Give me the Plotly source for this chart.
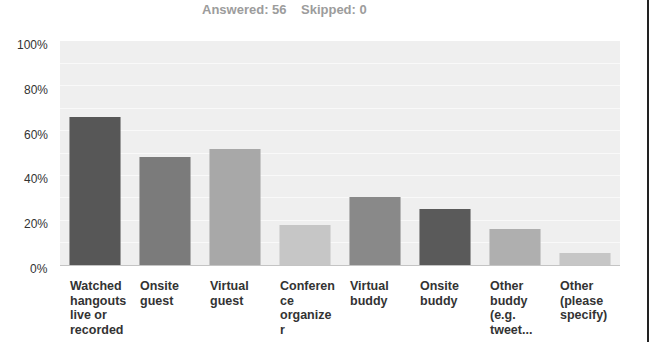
import plotly.graph_objects as go

categories = ["Watched hangouts live or recorded", "Onsite guest", "Virtual guest",
              "Conference organizer", "Virtual buddy", "Onsite buddy",
              "Other buddy (e.g. tweet...", "Other (please specify)"]
label_lines = [["Watched", "hangouts", "live or", "recorded"],
               ["Onsite", "guest"],
               ["Virtual", "guest"],
               ["Conferen", "ce", "organize", "r"],
               ["Virtual", "buddy"],
               ["Onsite", "buddy"],
               ["Other", "buddy", "(e.g.", "tweet..."],
               ["Other", "(please", "specify)"]]
values = [66.07, 48.21, 51.79, 17.86, 30.36, 25.00, 16.07, 5.36]
bar_colors = ["#575757", "#7b7b7b", "#a8a8a8", "#c6c6c6",
              "#898989", "#5a5a5a", "#afafaf", "#c6c6c6"]
y_ticks = [0, 20, 40, 60, 80, 100]
y_tick_labels = ["0%", "20%", "40%", "60%", "80%", "100%"]

x_idx = list(range(len(categories)))
bar_width = 0.73

fig = go.Figure()
fig.add_trace(go.Bar(
    x=x_idx, y=values, width=bar_width,
    marker=dict(color=bar_colors, line=dict(width=0)),
    hoverinfo="skip",
))

annotations = []
# y tick labels
for v, t in zip(y_ticks, y_tick_labels):
    annotations.append(dict(
        x=0, xref="paper", y=v, yref="y", text=t, showarrow=False,
        xanchor="right", yanchor="middle", xshift=-10, yshift=-4,
        font=dict(family="Liberation Sans, Arial", size=12, color="#333333"),
    ))
# category labels, one annotation per line
for i, lines in enumerate(label_lines):
    for j, ln in enumerate(lines):
        annotations.append(dict(
            x=i - bar_width / 2, xref="x", y=0, yref="paper", text="<b>%s</b>" % ln,
            showarrow=False, xanchor="left", yanchor="middle",
            xshift=-1, yshift=-21 - 14.7 * j,
            font=dict(family="Liberation Sans, Arial", size=12.5, color="#333333"),
        ))
# header
annotations.append(dict(
    x=0.401, xref="paper", y=1, yref="paper",
    text="<b>Answered: 56</b>&nbsp;&nbsp;&nbsp;&nbsp;<b>Skipped: 0</b>",
    showarrow=False, xanchor="center", yanchor="middle", yshift=32,
    font=dict(family="Liberation Sans, Arial", size=13, color="#9c9c9c"),
))

fig.update_layout(
    width=652, height=342,
    margin=dict(l=60, r=32, t=41, b=77),
    paper_bgcolor="#ffffff",
    plot_bgcolor="#efefef",
    showlegend=False,
    bargap=0.27,
    annotations=annotations,
    xaxis=dict(range=[-0.5, len(categories) - 0.5], showticklabels=False,
               showgrid=False, zeroline=False, showline=True, linecolor="#c4c4c4",
               linewidth=1, ticks=""),
    yaxis=dict(range=[0, 100], dtick=10, showticklabels=False, showgrid=True,
               gridcolor="#f9f9f9", gridwidth=1, zeroline=False, ticks=""),
    shapes=[dict(type="line", xref="paper", yref="paper",
                 x0=(648 - 60) / 560, x1=(648 - 60) / 560,
                 y0=-0.35, y1=1.2, line=dict(color="#222222", width=2))],
)

fig.write_html("out.html")
